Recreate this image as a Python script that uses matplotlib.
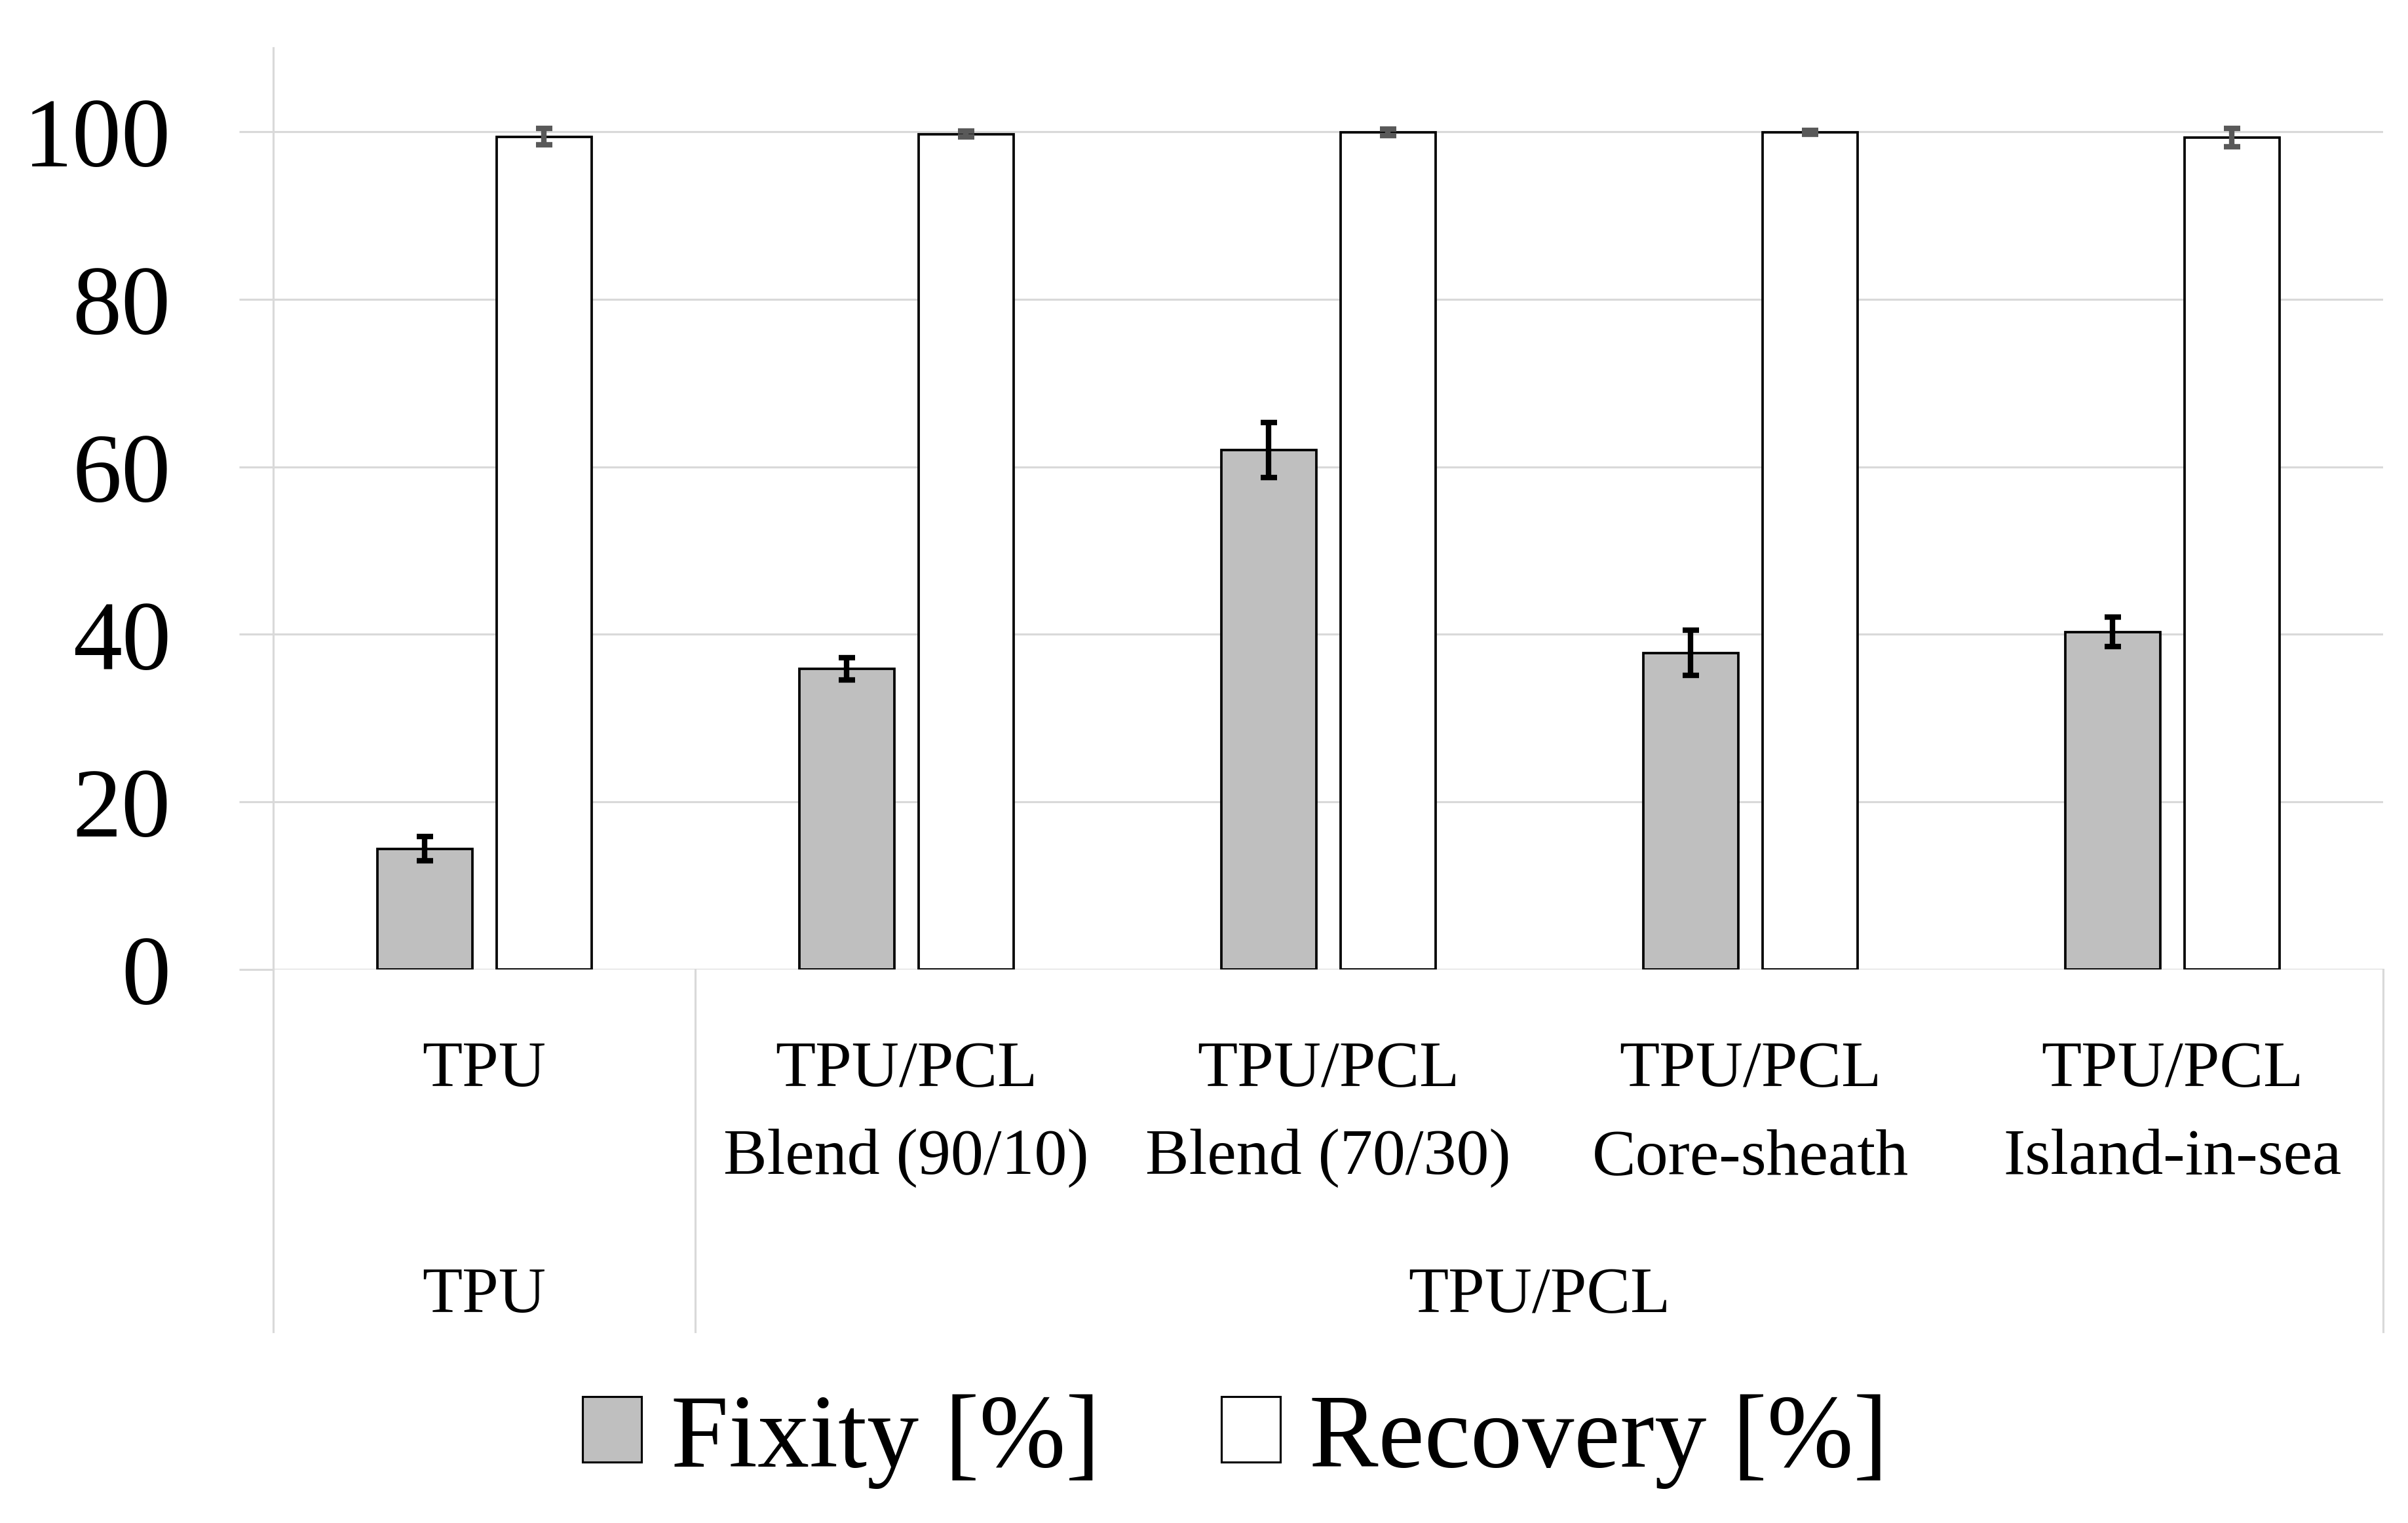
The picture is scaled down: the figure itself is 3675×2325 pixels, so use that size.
"""Shape-memory fixity / recovery bar chart for TPU and TPU/PCL fibres."""
import numpy as np
import matplotlib
matplotlib.use("Agg")
import matplotlib.pyplot as plt
from matplotlib.patches import Patch
from matplotlib.lines import Line2D
import matplotlib.transforms as mtransforms

plt.rcParams["font.family"] = ["Liberation Serif", "DejaVu Serif"]

# data
sub_top = ["TPU", "TPU/PCL", "TPU/PCL", "TPU/PCL", "TPU/PCL"]
sub_bottom = ["", "Blend (90/10)", "Blend (70/30)", "Core-sheath", "Island-in-sea"]
groups = ["TPU", "TPU/PCL"]
group_span = [(0, 0), (1, 4)]
fixity = [14.4, 35.9, 62.0, 37.8, 40.3]
fixity_err = [1.45, 1.35, 3.25, 2.7, 1.75]
recovery = [99.4, 99.7, 99.9, 99.9, 99.3]
recovery_err = [0.95, 0.35, 0.4, 0.25, 1.1]
yticks = [0, 20, 40, 60, 80, 100]

GRID = "#d9d9d9"
FIX_C = "#bfbfbf"

fig = plt.figure(figsize=(12.25, 7.753), dpi=300)
ax = fig.add_axes([0.1135, 0.3633, 0.8762, 0.6049])

x = np.arange(len(fixity))
w = 0.225
off = 0.1413
ax.bar(x - off, fixity, w, color=FIX_C, edgecolor="black", linewidth=0.9, zorder=3)
ax.bar(x + off, recovery, w, color="white", edgecolor="black", linewidth=0.9, zorder=3)
ax.errorbar(x - off, fixity, yerr=fixity_err, fmt="none", ecolor="black",
            elinewidth=2.0, capsize=3.0, capthick=2.0, zorder=4)
ax.errorbar(x + off, recovery, yerr=recovery_err, fmt="none", ecolor="#595959",
            elinewidth=2.0, capsize=3.0, capthick=2.0, zorder=4)

ax.set_xlim(-0.5, len(fixity) - 0.5)
ax.set_ylim(0, 110)
ax.set_yticks(yticks)
ax.set_yticklabels([str(v) for v in yticks], fontsize=36)
ax.tick_params(axis="y", length=12.5, width=0.75, color=GRID, pad=25)
ax.tick_params(axis="x", bottom=False, labelbottom=False)
ax.grid(axis="y", color=GRID, linewidth=0.75, zorder=0)
for s in ["top", "right", "bottom"]:
    ax.spines[s].set_visible(False)
ax.spines["left"].set_color(GRID)
ax.spines["left"].set_linewidth(0.75)

# multi-level category axis
trans = mtransforms.blended_transform_factory(ax.transData, ax.transAxes)
for i in x:
    ax.text(i, -0.1258, sub_top[i], transform=trans, ha="center", va="baseline", fontsize=24)
    if sub_bottom[i]:
        ax.text(i, -0.221, sub_bottom[i], transform=trans, ha="center", va="baseline", fontsize=24)
for g, (a, b) in zip(groups, group_span):
    ax.text((a + b) / 2, -0.371, g, transform=trans, ha="center", va="baseline", fontsize=24)
for xs in [-0.5, 0.5, 4.5]:
    ax.add_line(Line2D([xs, xs], [0, -0.393], transform=trans, color=GRID,
                       linewidth=0.75, clip_on=False))

handles = [Patch(facecolor=FIX_C, edgecolor="black", linewidth=0.75, label="Fixity [%]"),
           Patch(facecolor="white", edgecolor="black", linewidth=0.75, label="Recovery [%]")]
fig.legend(handles=handles, loc="center", bbox_to_anchor=(0.513, 0.054), ncol=2,
           frameon=False, fontsize=38, handlelength=0.57, handleheight=0.59,
           handletextpad=0.28, columnspacing=1.17)

fig.savefig("out.png", dpi=300)
